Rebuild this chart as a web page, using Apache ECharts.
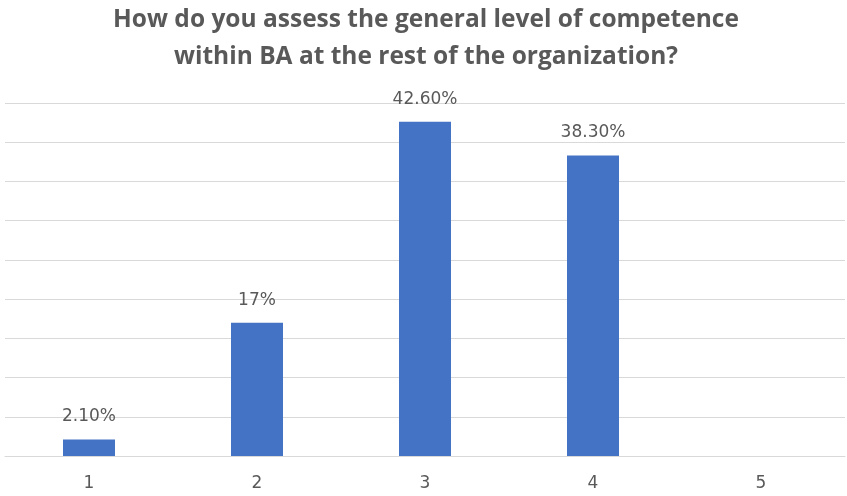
<!DOCTYPE html>
<html>
<head>
<meta charset="utf-8">
<script src="https://cdn.jsdelivr.net/npm/echarts@6/dist/echarts.min.js"></script>
<style>
  html, body { margin: 0; padding: 0; background: #fff; }
  #chart { width: 847px; height: 496px; }
</style>
</head>
<body>
<div id="chart"></div>
<script>
// Survey answers on a 1–5 scale
const categories = ['1', '2', '3', '4', '5'];
const shares = [2.1, 17, 42.6, 38.3, null];
const titleText = 'How do you assess the general level of competence\nwithin BA at the rest of the organization?';

function pctLabel(v) {
  return Number.isInteger(v) ? v + '%' : v.toFixed(2) + '%';
}

const chart = echarts.init(document.getElementById('chart'), null, { renderer: 'canvas' });
chart.setOption({
  animation: false,
  backgroundColor: '#ffffff',
  title: {
    text: titleText,
    left: 426,
    textAlign: 'center',
    top: 2,
    padding: 0,
    textStyle: {
      fontFamily: 'Open Sans',
      fontWeight: 'bold',
      fontSize: 24.5,
      lineHeight: 36.5,
      color: '#595959'
    }
  },
  grid: { left: 5, right: 2, top: 103, bottom: 40, containLabel: false },
  xAxis: {
    type: 'category',
    data: categories,
    axisLine: { lineStyle: { color: '#d9d9d9', width: 1 } },
    axisTick: { show: false },
    axisLabel: {
      color: '#595959',
      fontFamily: 'DejaVu Sans',
      fontSize: 17,
      margin: 19
    }
  },
  yAxis: {
    type: 'value',
    min: 0,
    max: 45,
    interval: 5,
    axisLabel: { show: false },
    axisLine: { show: false },
    axisTick: { show: false },
    splitLine: { lineStyle: { color: '#d9d9d9', width: 1 } }
  },
  series: [{
    type: 'bar',
    data: shares,
    barWidth: 52,
    itemStyle: { color: '#4472C4' },
    label: {
      show: true,
      position: 'top',
      distance: 14,
      color: '#595959',
      fontFamily: 'DejaVu Sans',
      fontSize: 17,
      formatter: p => p.value == null ? '' : pctLabel(p.value)
    }
  }]
});
</script>
</body>
</html>
